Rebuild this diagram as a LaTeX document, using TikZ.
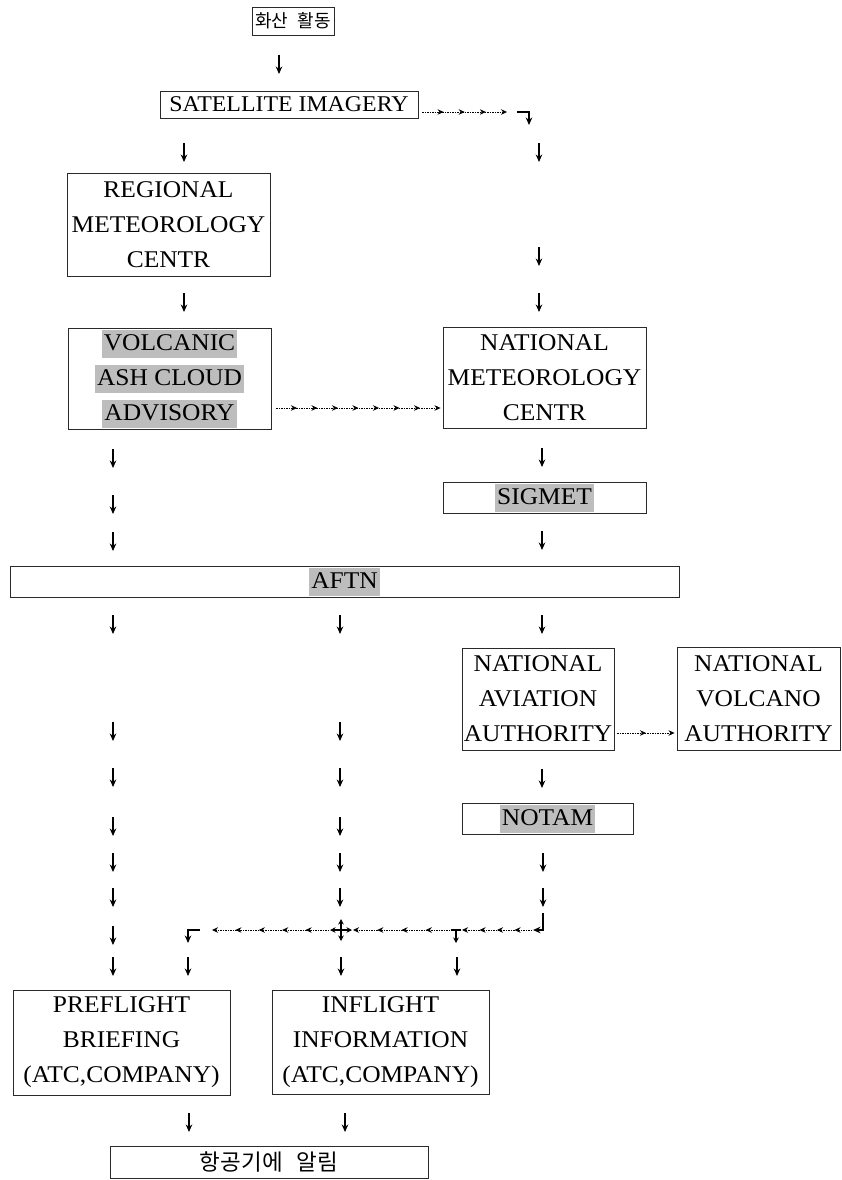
\documentclass[tikz,border=0pt]{standalone}
\usepackage{fontspec}
\setmainfont{Liberation Serif}[FakeStretch=1.06]
\newfontfamily\kfont{Noto Sans CJK KR}
\usetikzlibrary{arrows.meta,decorations.markings}
\definecolor{shade}{HTML}{BDBDBD}
\definecolor{inkgray}{HTML}{2A2A2A}
\newcommand\shd[1]{{\fboxsep=2pt\colorbox{shade}{\rule[-5pt]{0pt}{24pt}#1}}}

\begin{document}
\begin{tikzpicture}[x=1pt,y=-1pt,
  box/.style={draw=inkgray,line width=0.9pt,inner sep=0pt,align=center,
              font=\fontsize{24}{35}\selectfont},
  glyph/.style={-{Stealth[length=7.5pt,width=6.5pt]},line width=1.2pt},
  tick/.style={-{Stealth[length=5.5pt,width=5.5pt]},line width=1.1pt},
  dotchain/.style={dash pattern=on 1.5pt off 1pt,line width=0.8pt,
              -{Stealth[length=6pt,width=5.5pt]},postaction={decorate},
              decoration={markings,mark=between positions 1/#1 and 1-1/#1+0.001 step 1/#1
                          with {\arrow{Stealth[length=6pt,width=5.5pt]}}}}
]
\useasboundingbox (0,0) rectangle (842,1180);

% boxes
\node[box,minimum width=82,minimum height=28] (erupt) at (293,21)
  {\kfont\fontsize{18}{20}\selectfont 화산\hspace{9pt}활동};
\node[box,minimum width=258,minimum height=27,font=\fontsize{22.5}{35}\selectfont] (sat) at (289,104.5) {SATELLITE IMAGERY};
\node[box,minimum width=203,minimum height=103] (rmc) at (168.5,224.5) {REGIONAL\\METEOROLOGY\\CENTR};
\node[box,minimum width=203,minimum height=101] (adv) at (169.5,378.5) {\shd{VOLCANIC}\\\shd{ASH CLOUD}\\\shd{ADVISORY}};
\node[box,minimum width=203,minimum height=101] (nmc) at (544.5,377.5) {NATIONAL\\METEOROLOGY\\CENTR};
\node[box,minimum width=203,minimum height=31] (sigmet) at (544.5,497.5) {\shd{SIGMET}};
\node[box,minimum width=669,minimum height=31] (aftn) at (344.5,581.5) {\shd{AFTN}};
\node[box,minimum width=152,minimum height=102] (naa) at (538,699) {NATIONAL\\AVIATION\\AUTHORITY};
\node[box,minimum width=163,minimum height=103] (nva) at (758.5,698.5) {NATIONAL\\VOLCANO\\AUTHORITY};
\node[box,minimum width=171,minimum height=31] (notam) at (547.5,818.5) {\shd{NOTAM}};
\node[box,minimum width=217,minimum height=105] (pre) at (121.5,1042.5) {PREFLIGHT\\BRIEFING\\(ATC,COMPANY)};
\node[box,minimum width=217,minimum height=104] (inf) at (380.5,1042) {INFLIGHT\\INFORMATION\\(ATC,COMPANY)};
\node[box,minimum width=318,minimum height=32] (alert) at (269,1162)
  {\kfont\fontsize{22.5}{24}\selectfont 항공기에\hspace{14pt}알림};

% single down arrows
\foreach \x/\y in {279/55, 184/143, 539/143, 539/247, 184/293, 539/293,
    113/449, 113/495, 113/532, 542/448, 542/531,
    113/615, 340/615, 542/615, 113/722, 340/722,
    113/768, 340/768, 542/769, 113/817, 340/817,
    113/853, 340/853, 543/853, 113/888, 340/888, 543/888,
    113/926, 113/957, 188/957, 341/957, 457/957, 189/1113, 345/1113}
  \draw[glyph] (\x,\y) -- ++(0,19);

% dotted runs
\coordinate (turn) at (517,112);
\draw[dotchain=4] ([xshift=4pt]sat.east |- turn) -- ([xshift=-10pt]turn);
\draw[glyph] (turn) -| (529,125);
\draw[dotchain=8] ([xshift=5pt]adv.east |- 0,408) -- ([xshift=-2pt]nmc.west |- 0,408);
\draw[dotchain=2] ([xshift=3pt]naa.east |- 0,733) -- ([xshift=-2pt]nva.west |- 0,733);

% collecting line
\coordinate (bendr) at (543,930);
\coordinate (tee) at (456,930);
\coordinate (hub) at (341,930);
\coordinate (bendl) at (188,930);
\draw[glyph] (543,913) |- ([xshift=-10pt]bendr);
\draw[dotchain=4] ([xshift=-11pt]bendr) -- ([xshift=6pt]tee);
\draw[line width=1.1pt] ([xshift=-5pt]tee) -- ([xshift=5pt]tee);
\draw[tick] (tee) -- ++(0,13);
\foreach \a in {0,90,180,270}
  \draw[tick] (hub) -- ++(\a:11);
\draw[dotchain=4] ([xshift=-6pt]tee) -- ([xshift=12pt]hub);
\draw[dotchain=5] ([xshift=-12pt]hub) -- ([xshift=24pt]bendl);
\draw[glyph] ([xshift=12pt]bendl) -| ([yshift=-13pt]bendl);
\end{tikzpicture}
\end{document}
